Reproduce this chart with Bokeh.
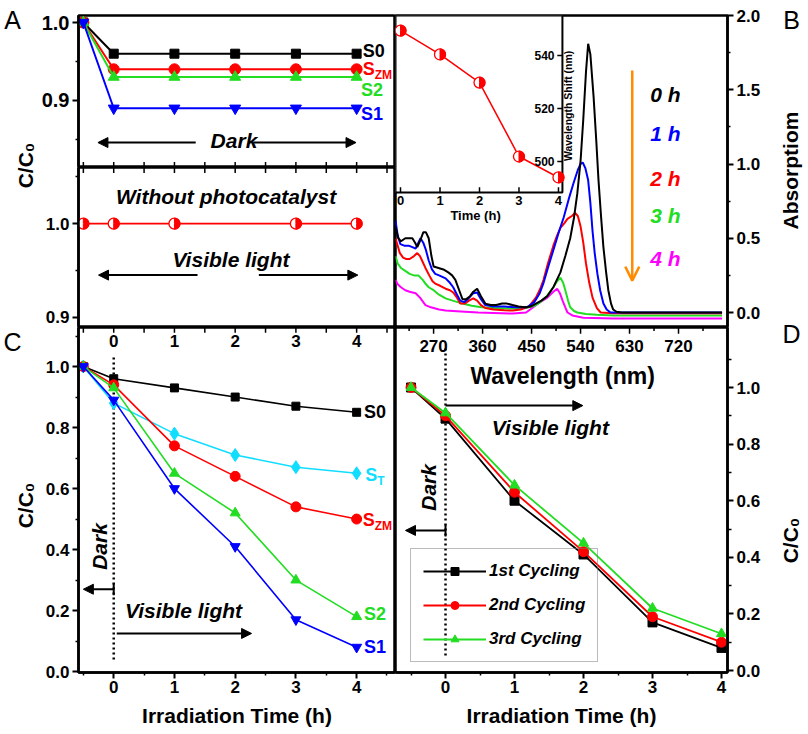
import math
from bokeh.plotting import figure
from bokeh.layouts import row, column
from bokeh.models import (LinearAxis, Range1d, FixedTicker, PrintfTickFormatter,
                          Arrow, NormalHead, TeeHead, OpenHead, Legend, LegendItem)
from bokeh.core.properties import value
from bokeh.embed import file_html
from bokeh.resources import INLINE

FONT = "Liberation Sans"
BLACK, RED, GREEN, BLUE = "#000000", "#ff0000", "#22dd22", "#0000ff"
CYAN, MAGENTA, ORANGE = "#11ddff", "#ff00ff", "#ff8c00"

# ---------------- Panel A : dark adsorption ----------------
a_time = [-0.5, 0, 1, 2, 3, 4]
a_s0 = [1.0, 0.96, 0.96, 0.96, 0.96, 0.96]
a_szm = [1.0, 0.94, 0.94, 0.94, 0.94, 0.94]
a_s2 = [1.0, 0.93, 0.93, 0.93, 0.93, 0.93]
a_s1 = [1.0, 0.89, 0.89, 0.89, 0.89, 0.89]
# without photocatalyst (visible light)
a2_time = [-0.5, 0, 1, 3, 4]
a2_cc0 = [1.0, 1.0, 1.0, 1.0, 1.0]

# ---------------- Panel B : absorption spectra ----------------
wl_0h = [200, 205, 210, 218, 226, 231, 236, 240, 246, 251, 256, 261, 266, 270, 279, 288, 297, 304, 310,
         317, 323, 330, 337, 343, 350, 357, 365, 375, 385, 396, 405, 415, 426, 437, 448, 458, 468, 479,
         490, 503, 512, 521, 528, 534, 540, 545, 550, 554, 558, 564, 569, 573, 578, 582, 587, 591, 596,
         600, 606, 615, 650, 700, 750, 800]
abs_0h = [0.58, 0.50, 0.48, 0.50, 0.50, 0.50, 0.47, 0.44, 0.49, 0.54, 0.54, 0.50, 0.38, 0.31, 0.30, 0.29,
          0.27, 0.25, 0.22, 0.15, 0.09, 0.09, 0.11, 0.14, 0.16, 0.11, 0.06, 0.05, 0.05, 0.06, 0.06, 0.05,
          0.04, 0.035, 0.04, 0.06, 0.08, 0.11, 0.17, 0.27, 0.38, 0.50, 0.64, 0.80, 1.02, 1.30, 1.62, 1.81,
          1.74, 1.45, 1.15, 0.89, 0.63, 0.44, 0.27, 0.15, 0.06, 0.02, 0.005, 0.0, 0.0, 0.0, 0.0, 0.0]
wl_1h = [200, 204, 209, 216, 224, 231, 237, 242, 246, 251, 256, 261, 267, 273, 280, 292, 300, 306, 313,
         319, 326, 333, 343, 350, 357, 365, 380, 400, 420, 442, 455, 465, 472, 480, 490, 500, 509, 518,
         527, 535, 540, 544, 549, 554, 558, 562, 566, 571, 576, 582, 588, 595, 650, 700, 800]
abs_1h = [0.62, 0.52, 0.46, 0.45, 0.45, 0.44, 0.43, 0.47, 0.50, 0.47, 0.42, 0.35, 0.29, 0.26, 0.25,
          0.23, 0.20, 0.17, 0.12, 0.08, 0.07, 0.09, 0.13, 0.135, 0.09, 0.05, 0.04, 0.04, 0.035, 0.035,
          0.07, 0.13, 0.20, 0.30, 0.42, 0.54, 0.64, 0.76, 0.87, 0.96, 1.00, 1.01, 0.97, 0.89, 0.74, 0.55,
          0.40, 0.26, 0.15, 0.06, 0.02, 0.0, 0.0, 0.0, 0.0]
wl_2h = [200, 204, 208, 214, 220, 226, 234, 240, 245, 250, 255, 262, 268, 273, 282, 292, 300, 306, 313,
         319, 327, 335, 343, 350, 357, 365, 380, 400, 416, 430, 445, 458, 466, 472, 480, 490, 497, 503,
         510, 516, 524, 530, 535, 540, 545, 550, 556, 562, 570, 577, 600, 700, 800]
abs_2h = [0.50, 0.45, 0.40, 0.37, 0.36, 0.36, 0.38, 0.40, 0.38, 0.34, 0.30, 0.25, 0.21, 0.195, 0.18,
          0.16, 0.15, 0.135, 0.10, 0.06, 0.06, 0.08, 0.095, 0.08, 0.05, 0.03, 0.02, 0.015, 0.013, 0.02,
          0.04, 0.10, 0.16, 0.22, 0.33, 0.45, 0.52, 0.57, 0.60, 0.63, 0.65, 0.67, 0.65, 0.58, 0.47, 0.33,
          0.20, 0.10, 0.03, 0.0, -0.005, -0.005, -0.005]
wl_3h = [200, 204, 210, 218, 226, 234, 242, 250, 256, 261, 270, 280, 292, 305, 323, 340, 358, 380, 416,
         440, 455, 466, 478, 490, 497, 503, 508, 512, 517, 521, 528, 534, 550, 570, 600, 800]
abs_3h = [0.38, 0.33, 0.30, 0.28, 0.26, 0.25, 0.25, 0.22, 0.19, 0.17, 0.15, 0.12, 0.095, 0.08, 0.06,
          0.045, 0.035, 0.03, 0.027, 0.03, 0.045, 0.07, 0.11, 0.17, 0.21, 0.235, 0.20, 0.15, 0.08, 0.035,
          0.01, 0.0, -0.01, -0.015, -0.02, -0.02]
wl_4h = [200, 204, 210, 218, 226, 237, 245, 255, 265, 280, 292, 320, 352, 380, 416, 440, 453, 466, 479,
         490, 497, 502, 507, 512, 516, 525, 545, 600, 800]
abs_4h = [0.22, 0.19, 0.17, 0.15, 0.14, 0.13, 0.10, 0.05, 0.035, 0.02, 0.013, 0.007, 0.0, -0.003,
          -0.007, 0.0, 0.035, 0.07, 0.10, 0.14, 0.16, 0.13, 0.08, 0.035, 0.0, -0.02, -0.035, -0.04, -0.04]
wl_ticks = [270, 360, 450, 540, 630, 720]
wl_minor = [225, 315, 405, 495, 585, 675, 765]
abs_ticks = [0.0, 0.5, 1.0, 1.5, 2.0]
hour_labels = ["0 h", "1 h", "2 h", "3 h", "4 h"]
hour_label_abs = [1.47, 1.205, 0.90, 0.653, 0.364]
# inset: wavelength shift
inset_time = [0, 1, 2, 3, 4]
inset_shift = [549.4, 540.4, 529.8, 501.9, 494.0]
inset_time_ticks = [0, 1, 2, 3, 4]
inset_shift_ticks = [500, 520, 540]

# ---------------- Panel C : photocatalytic degradation ----------------
c_time = [-0.5, 0, 1, 2, 3, 4]
c_s0 = [1.0, 0.96, 0.93, 0.90, 0.87, 0.85]
c_st = [1.0, 0.88, 0.78, 0.71, 0.67, 0.65]
c_szm = [1.0, 0.94, 0.74, 0.64, 0.54, 0.50]
c_s2 = [1.0, 0.93, 0.65, 0.52, 0.30, 0.18]
c_s1 = [1.0, 0.89, 0.60, 0.41, 0.17, 0.08]
time_ticks = [0, 1, 2, 3, 4]
time_minor = [-0.5, 0.5, 1.5, 2.5, 3.5, 4.5]

# ---------------- Panel D : cycling ----------------
d_time = [-0.5, 0, 1, 2, 3, 4]
d_1st = [1.0, 0.89, 0.60, 0.41, 0.17, 0.08]
d_2nd = [1.0, 0.90, 0.63, 0.42, 0.19, 0.10]
d_3rd = [1.0, 0.91, 0.655, 0.45, 0.22, 0.13]
cc0_ticks = [0.0, 0.2, 0.4, 0.6, 0.8, 1.0]
cc0_minor = [0.1, 0.3, 0.5, 0.7, 0.9, 1.1]

X_AC = (-0.58, 4.64)
X_D = (-0.725, 4.087)
Y_A1 = (0.814, 1.009)
Y_A2 = (0.889, 1.060)
Y_C = (-0.003, 1.128)
Y_D = (-0.007, 1.212)
WL_RANGE = (200, 810)
INSET_T = (-0.127, 4.1)
INSET_S = (488.3, 555.1)


def make_fig(w, h, xr, yr, left, right, top, bottom, outline=True):
    p = figure(width=w, height=h, x_range=Range1d(*xr), y_range=Range1d(*yr),
               x_axis_location=None, y_axis_location=None, toolbar_location=None,
               output_backend="svg", min_border_left=left, min_border_right=right,
               min_border_top=top, min_border_bottom=bottom)
    p.xgrid.grid_line_color = None
    p.ygrid.grid_line_color = None
    p.outline_line_color = "black" if outline else None
    p.outline_line_width = 2.5
    p.background_fill_color = "white"
    p.border_fill_color = "white"
    return p


def add_axis(p, side, ticks, minor, fmt, size, label=None, label_size="21px", label_standoff=8,
             standoff=3, minor_len=3):
    ax = LinearAxis(ticker=FixedTicker(ticks=ticks, minor_ticks=minor),
                    formatter=PrintfTickFormatter(format=fmt))
    ax.axis_line_color = "black"
    ax.axis_line_width = 2.5
    ax.major_tick_line_width = 2
    ax.minor_tick_line_width = 1.5
    ax.major_tick_in = 0
    ax.major_tick_out = 6
    ax.minor_tick_in = 0
    ax.minor_tick_out = minor_len
    ax.major_label_text_font = FONT
    ax.major_label_text_font_style = "bold"
    ax.major_label_text_font_size = size
    ax.major_label_text_color = "black"
    ax.major_label_standoff = standoff
    if label:
        ax.axis_label = label
        ax.axis_label_text_font = FONT
        ax.axis_label_text_font_style = "bold"
        ax.axis_label_text_font_size = label_size
        ax.axis_label_text_color = "black"
        ax.axis_label_standoff = label_standoff
    p.add_layout(ax, side)
    return ax


def txt(p, x, y, text, size, color="black", style="bold", align="left", baseline="middle",
        angle=0, **kw):
    p.text(x=x, y=y, text=text, text_font=value(FONT), text_font_style=style,
           text_font_size=size, text_color=color, text_align=align, text_baseline=baseline,
           angle=angle, **kw)


def arrow(p, x0, y0, x1, y1, tee=False, lw=2):
    p.add_layout(Arrow(end=NormalHead(size=10, fill_color="black", line_color="black"),
                       start=TeeHead(size=12, line_width=2) if tee else None,
                       x_start=x0, y_start=y0, x_end=x1, y_end=y1,
                       line_color="black", line_width=lw))


def half_marker(p, x, y, size=11, **kw):
    p.scatter(x, y, marker="circle", size=size, fill_color="white", line_color=RED,
              line_width=1.3, **kw)
    p.wedge(x, y, radius=size / 2, radius_units="screen", start_angle=-math.pi / 2,
            end_angle=math.pi / 2, fill_color=RED, line_color=RED, **kw)


def edge_ticks(p, xs, y_edge, length, **kw):
    p.segment(x0=xs, y0=[y_edge] * len(xs), x1=xs, y1=[y_edge + length] * len(xs),
              color="black", line_width=1.5, **kw)


def strip(width, height):
    p = figure(width=width, height=height, x_range=Range1d(0, width), y_range=Range1d(0, height),
               x_axis_location=None, y_axis_location=None, toolbar_location=None,
               output_backend="svg", min_border=0)
    p.xgrid.grid_line_color = None
    p.ygrid.grid_line_color = None
    p.outline_line_color = None
    return p


# ======== left label strip (panel letters A, C and C/C0 titles) ========
pL = strip(38, 734)
txt(pL, [12], [715], ["A"], "25px", style="normal", align="center")
txt(pL, [25], [569], ["C/C\u2080"], "21px", align="center", angle=math.pi / 2)
txt(pL, [12], [393], ["C"], "25px", style="normal", align="center")
txt(pL, [25], [229], ["C/C\u2080"], "21px", align="center", angle=math.pi / 2)

# ======== right label strip (panel letters B, D and right titles) ========
pR = strip(38, 734)
txt(pR, [21], [715], ["B"], "25px", style="normal", align="center")
txt(pR, [20], [564], ["Absorptiom"], "21px", align="center", angle=math.pi / 2)
txt(pR, [21], [401], ["D"], "25px", style="normal", align="center")
txt(pR, [20], [194], ["C/C\u2080"], "21px", align="center", angle=math.pi / 2)

# ======== Panel A top ========
pA1 = make_fig(357, 167, X_AC, Y_A1, 40, 0, 15, 0)
add_axis(pA1, "left", [0.9, 1.0], [0.85, 0.95], "%.1f", "20px")
edge_ticks(pA1, time_ticks + time_minor, Y_A1[0], 0.007)
for ys, col, mk, sz in [(a_s0, BLACK, "square", 9), (a_szm, RED, "circle", 11),
                        (a_s2, GREEN, "triangle", 11), (a_s1, BLUE, "inverted_triangle", 11)]:
    pA1.line(a_time, ys, color=col, line_width=2)
    pA1.scatter(a_time, ys, marker=mk, size=sz, color=col)
txt(pA1, [4.1], [0.964], ["S0"], "18px")
txt(pA1, [4.1], [0.941], ["S"], "18px", color=RED)
txt(pA1, [4.1], [0.941], ["ZM"], "12px", color=RED, x_offset=12, y_offset=6)
txt(pA1, [4.07], [0.913], ["S2"], "18px", color=GREEN)
txt(pA1, [4.07], [0.883], ["S1"], "18px", color=BLUE)
txt(pA1, [1.98], [0.849], ["Dark"], "21px", style="bold italic", align="center")
arrow(pA1, 1.35, 0.846, -0.26, 0.846)
arrow(pA1, 2.31, 0.846, 3.99, 0.846)

# ======== Panel A bottom ========
pA2 = make_fig(357, 160, X_AC, Y_A2, 40, 0, 0, 0)
add_axis(pA2, "left", [0.9, 1.0], [0.95, 1.05], "%.1f", "17px")
edge_ticks(pA2, time_ticks + time_minor, Y_A2[1], -0.006)
pA2.line(a2_time, a2_cc0, color=RED, line_width=1.8)
half_marker(pA2, a2_time, a2_cc0)
txt(pA2, [1.85], [1.029], ["Without photocatalyst"], "21px", style="bold italic", align="center")
txt(pA2, [1.93], [0.962], ["Visible light"], "21px", style="bold italic", align="center")
arrow(pA2, 1.38, 0.945, -0.25, 0.945)
arrow(pA2, 2.39, 0.945, 4.02, 0.945)

# ======== Panel C ========
pC = make_fig(357, 407, X_AC, Y_C, 40, 0, 0, 62)
add_axis(pC, "left", cc0_ticks, cc0_minor, "%.1f", "17px")
add_axis(pC, "below", time_ticks, time_minor, "%d", "17px", label="Irradiation Time (h)",
         standoff=2, label_standoff=8)
edge_ticks(pC, time_ticks + time_minor, Y_C[1], -0.017)
txt(pC, time_ticks, [1.085] * len(time_ticks), [str(t) for t in time_ticks], "17px", align="center")
pC.segment(x0=[0], y0=[1.03], x1=[0], y1=[0.035], color="black", line_width=2.5, line_dash="2 3")
for ys, col, mk, sz in [(c_s0, BLACK, "square", 8), (c_st, CYAN, "diamond", 13),
                        (c_szm, RED, "circle", 10), (c_s2, GREEN, "triangle", 10),
                        (c_s1, BLUE, "inverted_triangle", 10)]:
    pC.line(c_time, ys, color=col, line_width=1.6)
    pC.scatter(c_time, ys, marker=mk, size=sz, color=col)
txt(pC, [4.12], [0.852], ["S0"], "18px")
txt(pC, [4.14], [0.646], ["S"], "18px", color=CYAN)
txt(pC, [4.14], [0.646], ["T"], "12px", color=CYAN, x_offset=12, y_offset=6)
txt(pC, [4.1], [0.498], ["S"], "18px", color=RED)
txt(pC, [4.1], [0.498], ["ZM"], "12px", color=RED, x_offset=12, y_offset=6)
txt(pC, [4.12], [0.19], ["S2"], "18px", color=GREEN)
txt(pC, [4.12], [0.079], ["S1"], "18px", color=BLUE)
txt(pC, [-0.23], [0.41], ["Dark"], "21px", style="bold italic", align="center", angle=math.pi / 2)
arrow(pC, 0.0, 0.27, -0.5, 0.27, tee=True)
txt(pC, [1.15], [0.20], ["Visible light"], "21px", style="bold italic", align="center")
arrow(pC, 0.05, 0.125, 2.27, 0.125)

# ======== Panel B ========
pB = make_fig(375, 327, WL_RANGE, (-0.101, 2.0), 0, 43, 15, 0)
add_axis(pB, "right", abs_ticks, [0.25, 0.75, 1.25, 1.75], "%.1f", "17px")
for wl, ab, col in [(wl_4h, abs_4h, MAGENTA), (wl_3h, abs_3h, GREEN), (wl_2h, abs_2h, RED),
                    (wl_1h, abs_1h, BLUE), (wl_0h, abs_0h, BLACK)]:
    pB.line(wl, ab, color=col, line_width=2)
for t, yv, col in zip(hour_labels, hour_label_abs, [BLACK, BLUE, RED, GREEN, MAGENTA]):
    txt(pB, [668], [yv], [t], "21px", color=col, style="bold italic")
pB.add_layout(Arrow(end=OpenHead(size=14, line_color=ORANGE, line_width=2.5),
                    x_start=635, y_start=1.63, x_end=635, y_end=0.215,
                    line_color=ORANGE, line_width=2.5))
# inset drawn through its own (extra) ranges
pB.extra_x_ranges = {"t": Range1d(-0.127, 8.28)}
pB.extra_y_ranges = {"sh": Range1d(437.4, 555.1)}
IK = dict(x_range_name="t", y_range_name="sh")
pB.quad(left=[INSET_T[0]], right=[INSET_T[1]], bottom=[INSET_S[0]], top=[INSET_S[1]],
        fill_color="white", line_color="black", line_width=2, **IK)
edge_ticks(pB, inset_time_ticks, INSET_S[0], 2.0, **IK)
pB.segment(x0=[INSET_T[1]] * 3, y0=inset_shift_ticks, x1=[INSET_T[1] - 0.13] * 3,
           y1=inset_shift_ticks, color="black", line_width=1.5, **IK)
pB.line(inset_time, inset_shift, color=RED, line_width=1.5, **IK)
half_marker(pB, inset_time, inset_shift, size=11, **IK)
txt(pB, inset_time_ticks, [INSET_S[0] - 1.2] * 5, [str(t) for t in inset_time_ticks], "13px",
    align="center", baseline="top", **IK)
txt(pB, [INSET_T[1] - 0.2] * 3, inset_shift_ticks, [str(s) for s in inset_shift_ticks], "12px",
    align="right", **IK)
txt(pB, [1.9], [479.6], ["Time (h)"], "13px", align="center", **IK)
txt(pB, [4.25], [521.0], ["Wavelength Shift (nm)"], "10.5px", align="center", angle=math.pi / 2, **IK)

# ======== Panel D ========
pD = make_fig(375, 407, X_D, Y_D, 0, 43, 0, 62)
add_axis(pD, "right", cc0_ticks, cc0_minor, "%.1f", "17px", minor_len=4)
add_axis(pD, "below", time_ticks, time_minor, "%d", "17px", label="Irradiation Time (h)",
         standoff=2, label_standoff=8)
pD.extra_x_ranges = {"wl": Range1d(*WL_RANGE)}
edge_ticks(pD, wl_ticks, Y_D[1], -0.022, x_range_name="wl")
edge_ticks(pD, wl_minor, Y_D[1], -0.012, x_range_name="wl")
txt(pD, wl_ticks, [1.148] * len(wl_ticks), [str(w) for w in wl_ticks], "17px", align="center",
    x_range_name="wl")
txt(pD, [507], [1.042], ["Wavelength (nm)"], "23px", align="center", x_range_name="wl")
pD.segment(x0=[0], y0=[1.138], x1=[0], y1=[0.046], color="black", line_width=2.5, line_dash="2 3")
items = []
for ys, col, mk, sz, name in [(d_1st, BLACK, "square", 9, "1st Cycling"),
                              (d_2nd, RED, "circle", 10, "2nd Cycling"),
                              (d_3rd, GREEN, "triangle", 10, "3rd Cycling")]:
    rl = pD.line(d_time, ys, color=col, line_width=1.8)
    rs = pD.scatter(d_time, ys, marker=mk, size=sz, color=col)
    items.append(LegendItem(label=name, renderers=[rl, rs]))
legend = Legend(items=items, location=(15, 10), border_line_color="#777777", border_line_width=1.2,
                background_fill_alpha=0, label_text_font=FONT, label_text_font_style="bold italic",
                label_text_font_size="17px", label_text_color="black", glyph_width=63,
                glyph_height=20, spacing=14, padding=12, margin=0, label_standoff=3)
pD.add_layout(legend)
arrow(pD, 0.0, 0.936, 1.99, 0.936)
txt(pD, [1.52], [0.859], ["Visible light"], "21px", style="bold italic", align="center")
txt(pD, [-0.25], [0.647], ["Dark"], "21px", style="bold italic", align="center", angle=math.pi / 2)
arrow(pD, 0.0, 0.495, -0.58, 0.495, tee=True)

layout = row(pL, column(pA1, pA2, pC), column(pB, pD), pR)

open("out.html", "w").write(file_html(layout, INLINE))
